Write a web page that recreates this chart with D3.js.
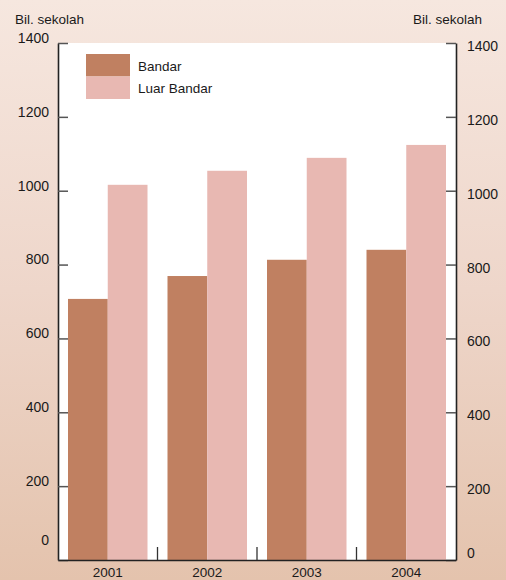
<!DOCTYPE html>
<html>
<head>
<meta charset="utf-8">
<script src="https://cdn.jsdelivr.net/npm/d3@7"></script>
<style>
  html, body { margin: 0; padding: 0; }
  body { width: 506px; height: 580px; overflow: hidden; }
  text { font-family: "Liberation Sans", Arial, Helvetica, sans-serif; fill: #1a1a1a; }
</style>
</head>
<body>
<div id="chart"></div>
<script>
// Data
const years = ["2001", "2002", "2003", "2004"];
const series = ["Bandar", "Luar Bandar"];
const bandar = [707, 769, 813, 840];
const luarBandar = [1016, 1054, 1089, 1124];
const yTicks = [0, 200, 400, 600, 800, 1000, 1200, 1400];
const colors = ["#c08061", "#e8b8b2"];

const width = 506, height = 580;
const margin = { top: 43, right: 50, bottom: 20, left: 58 };

const svg = d3.select("#chart").append("svg")
    .attr("width", width)
    .attr("height", height);

// background gradient
const grad = svg.append("defs").append("linearGradient")
    .attr("id", "bg").attr("x1", 0).attr("y1", 0).attr("x2", 0).attr("y2", 1);
grad.append("stop").attr("offset", "0%").attr("stop-color", "#f6e7df");
grad.append("stop").attr("offset", "50%").attr("stop-color", "#eed6ca");
grad.append("stop").attr("offset", "100%").attr("stop-color", "#e4c3ad");
svg.append("rect").attr("width", width).attr("height", height).attr("fill", "url(#bg)");

const x = d3.scaleBand()
    .domain(years)
    .range([margin.left, width - margin.right])
    .padding(0);

const x1 = d3.scaleBand()
    .domain(series)
    .range([10, x.bandwidth() - 10]);

const y = d3.scaleLinear()
    .domain([0, 1400])
    .range([height - margin.bottom, margin.top]);

// white plot area
svg.append("rect")
    .attr("x", margin.left).attr("y", margin.top)
    .attr("width", width - margin.left - margin.right)
    .attr("height", y(0) - margin.top)
    .attr("fill", "#fff");

// bars
const rows = years.map((yr, i) => ({ year: yr, values: [bandar[i], luarBandar[i]] }));
const groups = svg.selectAll(".grp")
    .data(rows)
    .enter().append("g")
    .attr("class", "grp")
    .attr("transform", d => `translate(${x(d.year)},0)`);

groups.selectAll("rect")
    .data(d => d.values.map((v, j) => ({ key: series[j], value: v, j: j })))
    .enter().append("rect")
    .attr("x", d => x1(d.key))
    .attr("y", d => y(d.value))
    .attr("width", x1.bandwidth())
    .attr("height", d => y(0) - y(d.value))
    .attr("fill", d => colors[d.j]);

const fmt = d3.format("d");

// left axis
const left = svg.append("g")
    .attr("transform", `translate(${margin.left},0)`)
    .call(d3.axisLeft(y).tickValues(yTicks).tickFormat(fmt).tickSize(-10).tickSizeOuter(0).tickPadding(9));
left.select(".domain").attr("stroke", "#222").attr("stroke-width", 1.6);
left.selectAll(".tick line").attr("stroke", "#555").attr("stroke-width", 1.5);
left.selectAll(".tick text")
    .style("font-size", "14px")
    .attr("dy", d => d === 0 ? "-1.1em" : "-0.05em");

// right axis
const right = svg.append("g")
    .attr("transform", `translate(${width - margin.right},0)`)
    .call(d3.axisRight(y).tickValues(yTicks).tickFormat(fmt).tickSize(-10).tickSizeOuter(0).tickPadding(11));
right.select(".domain").attr("stroke", "#222").attr("stroke-width", 1.6);
right.selectAll(".tick line").attr("stroke", "#555").attr("stroke-width", 1.5);
right.selectAll(".tick text")
    .style("font-size", "14px")
    .attr("y", d => d === 0 ? -7 : 3);

// bottom axis (labels only) + boundary ticks
const bottom = svg.append("g")
    .attr("transform", `translate(0,${y(0)})`)
    .call(d3.axisBottom(x).tickSize(0).tickSizeOuter(0).tickPadding(7));
bottom.select(".domain").attr("stroke", "#222").attr("stroke-width", 1.6);
bottom.selectAll(".tick text").style("font-size", "13.5px");

svg.selectAll(".sep")
    .data(years.slice(1))
    .enter().append("line")
    .attr("class", "sep")
    .attr("x1", d => x(d)).attr("x2", d => x(d))
    .attr("y1", y(0)).attr("y2", y(0) - 13)
    .attr("stroke", "#333").attr("stroke-width", 1.3);

// axis titles
svg.append("text").attr("x", 15).attr("y", 24)
    .style("font-size", "13.5px").text("Bil. sekolah");
svg.append("text").attr("x", 482).attr("y", 24).attr("text-anchor", "end")
    .style("font-size", "13.5px").text("Bil. sekolah");

// legend
const legend = svg.append("g").attr("transform", "translate(86,54)");
series.forEach((s, i) => {
    legend.append("rect")
        .attr("x", 0).attr("y", i * 22.5)
        .attr("width", 44).attr("height", 22.5)
        .attr("fill", colors[i]);
    legend.append("text")
        .attr("x", 52).attr("y", i * 22.5 + 16.5)
        .style("font-size", "13.5px")
        .text(s);
});
</script>
</body>
</html>
